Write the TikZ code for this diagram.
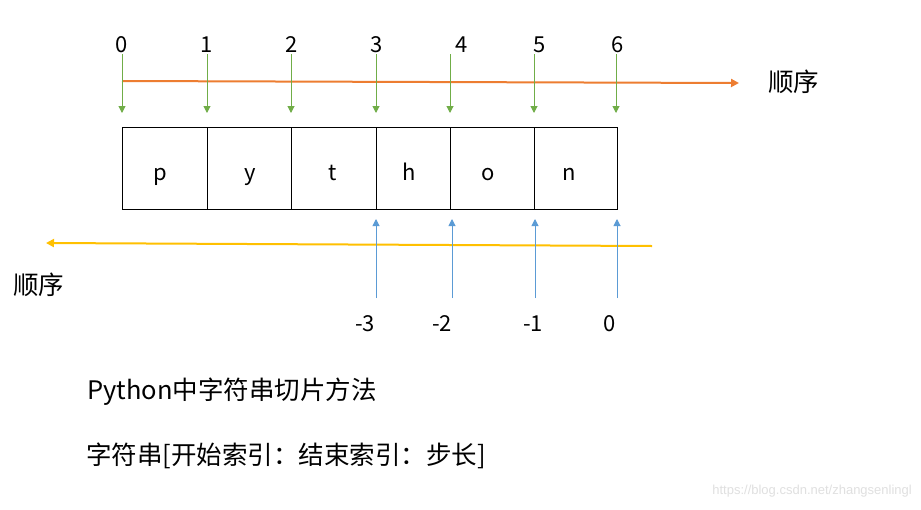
\documentclass[tikz,border=0pt]{standalone}
\usepackage{fontspec}
\setmainfont{Noto Sans CJK SC}
\newfontfamily\wmfont{Liberation Sans}
\usetikzlibrary{arrows.meta}
\definecolor{ordcol}{HTML}{ED7D31}
\definecolor{grncol}{HTML}{70AD47}
\definecolor{blucol}{HTML}{5B9BD5}
\definecolor{yelcol}{HTML}{FFC000}
\tikzset{
  lbl/.style={font=\fontsize{22}{26}\selectfont, inner sep=0pt, anchor=base},
  txt/.style={font=\fontsize{25.5}{30}\selectfont, inner sep=0pt, anchor=west},
  garrow/.style={grncol, line width=1pt, -{Triangle[width=7pt,length=7pt]}},
  barrow/.style={blucol, line width=1pt, -{Triangle[width=7pt,length=7pt]}},
  oline/.style={ordcol, line width=2pt, -{Triangle[width=8pt,length=8pt]}},
  yline/.style={yelcol, line width=2pt, -{Triangle[width=8pt,length=8pt]}},
  cell/.style={draw=black, line width=0.9pt}
}
\begin{document}
\begin{tikzpicture}[x=1pt,y=-1pt]
\useasboundingbox[fill=white] (0,0) rectangle (921,509);
% top index labels
\node[lbl] (t0) at (122,52) {0};
\node[lbl] (t1) at (207,52) {1};
\node[lbl] (t2) at (292,52) {2};
\node[lbl] (t3) at (377,52) {3};
\node[lbl] (t4) at (462,52) {4};
\node[lbl] (t5) at (540,52) {5};
\node[lbl] (t6) at (618,52) {6};
% box
\draw[cell] (122,127) rectangle (617,209);
\foreach \xx in {207,291,376,450,534}{\draw[cell] (\xx,127) -- (\xx,209);}
\node[lbl] (cp) at (160,180) {p};
\node[lbl] (cy) at (250,180) {y};
\node[lbl] (ct) at (333,180) {t};
\node[lbl] (ch) at (409,180) {h};
\node[lbl] (co) at (488,180) {o};
\node[lbl] (cn) at (569,180) {n};
% orange line
\coordinate (os) at (122,81);
\coordinate (oe) at (739,83);
\draw[oline] (os) -- (oe);
\node[txt] (ord1) at (768,82) {顺序};
% green arrows
\foreach \xx/\nm in {122/a,207/b,291/c,376/d,450/e,534/f,616/g}{
  \coordinate (gs\nm) at (\xx,54);
  \coordinate (ge\nm) at (\xx,113);
  \draw[garrow] (gs\nm) -- (ge\nm);
}
% yellow line
\coordinate (ys) at (652,246);
\coordinate (ye) at (46,243);
\draw[yline] (ys) -- (ye);
\node[txt] (ord2) at (13,285) {顺序};
% blue arrows
\foreach \xx/\nm in {376/a,452/b,535/c,617/d}{
  \coordinate (bs\nm) at (\xx,298);
  \coordinate (be\nm) at (\xx,219);
  \draw[barrow] (bs\nm) -- (be\nm);
}
% bottom labels
\node[lbl] (m3) at (365,331) {-3};
\node[lbl] (m2) at (442,331) {-2};
\node[lbl] (m1) at (533,331) {-1};
\node[lbl] (z0) at (610,331) {0};
% texts
\node[txt] (title) at (87,392) {Python中字符串切片方法};
\node[txt] (syntax) at (86,456) {字符串[开始索引：结束索引：步长]};
% watermark
\node[inner sep=0pt, anchor=east, text=black!12, font=\wmfont\fontsize{13}{15}\selectfont] (wm) at (912,491) {https://blog.csdn.net/zhangsenlingl};
\end{tikzpicture}
\end{document}
